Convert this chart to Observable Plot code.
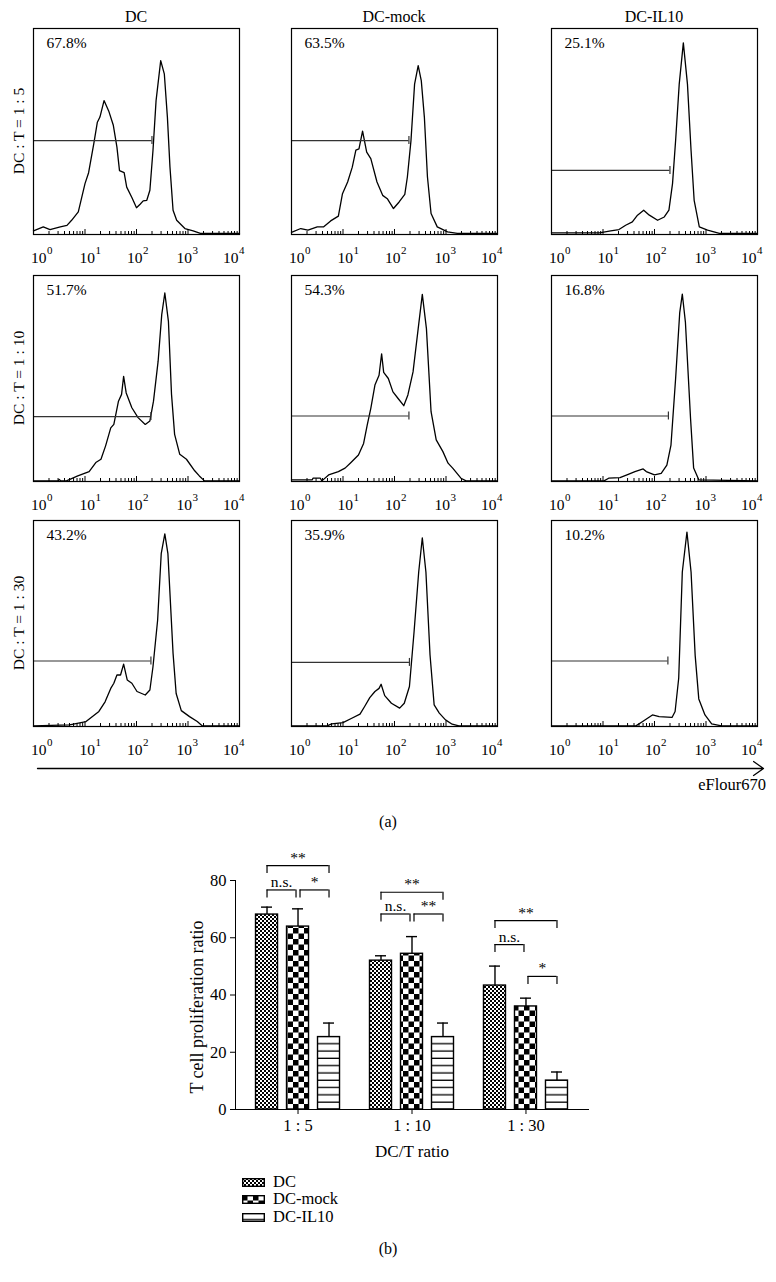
<!DOCTYPE html>
<html><head><meta charset="utf-8">
<script src="https://cdn.jsdelivr.net/npm/d3@7"></script>
<script src="https://cdn.jsdelivr.net/npm/@observablehq/plot@0.6"></script>
<style>
body{margin:0;background:#fff;}
#fig{position:relative;width:776px;height:1282px;font-family:"Liberation Serif","DejaVu Serif",serif;color:#000;overflow:hidden;background:#fff;}
#fig .t{position:absolute;white-space:nowrap;line-height:1;}
#fig .chart{position:absolute;}
</style></head><body>
<svg width="0" height="0" style="position:absolute;left:0;top:0">
<defs>
<pattern id="patFine" patternUnits="userSpaceOnUse" width="4" height="4"><rect width="4" height="4" fill="#fff"/><rect width="2" height="2" fill="#000"/><rect x="2" y="2" width="2" height="2" fill="#000"/></pattern>
<pattern id="patCheck" patternUnits="userSpaceOnUse" width="11" height="11"><rect width="11" height="11" fill="#fff"/><rect width="5.5" height="5.5" fill="#000"/><rect x="5.5" y="5.5" width="5.5" height="5.5" fill="#000"/></pattern>
<pattern id="patLines" patternUnits="userSpaceOnUse" width="8" height="7.3"><rect width="8" height="7.3" fill="#fff"/><rect y="6" width="8" height="1.3" fill="#000"/></pattern>
</defs></svg>
<div id="fig"></div>
<script>
// ---------- Panel (a): flow histograms, points = [log10 intensity, % of max height] ----------
const colTitles = ["DC", "DC-mock", "DC-IL10"];
const rowTitles = ["DC : T = 1 : 5", "DC : T = 1 : 10", "DC : T = 1 : 30"];
const pctLabels = [[67.8, 63.5, 25.1], [51.7, 54.3, 16.8], [43.2, 35.9, 10.2]];
const gateLevels = [[45.6, 45.6, 31.1], [31.5, 31.8, 31.8], [31.8, 31.1, 31.8]];
const gateEnds = [[2.30, 2.28, 2.30], [2.28, 2.28, 2.27], [2.28, 2.29, 2.26]];
const decadeLabels = ["0", "1", "2", "3", "4"];

const hDC5 = [[0,1.8],[0.19,3.7],[0.32,2.4],[0.52,3.7],[0.65,4.4],[0.74,6.9],[0.87,11],[1.0,24.7],[1.07,30],[1.17,44],[1.24,54.5],[1.29,57],[1.37,65],[1.46,60],[1.55,53],[1.62,42.4],[1.67,31],[1.76,30],[1.81,23],[1.91,18],[2.0,13],[2.07,14.7],[2.13,16.3],[2.2,16.6],[2.26,21.5],[2.32,40.8],[2.38,65],[2.47,84.4],[2.54,78],[2.6,57],[2.65,32.7],[2.71,11.8],[2.78,6.9],[2.94,2.9],[3.1,1.8],[3.24,0.5],[4,0.5]];
const hMock5 = [[0,1],[0.18,2.9],[0.32,2.1],[0.5,3.7],[0.62,3.7],[0.76,6.6],[0.91,8.9],[0.99,19.8],[1.09,25.5],[1.18,32.7],[1.25,41],[1.31,41.6],[1.38,50.2],[1.46,40],[1.54,36.8],[1.66,25.5],[1.77,19],[1.86,17.4],[1.98,12.6],[2.09,15.8],[2.2,19.5],[2.25,27.9],[2.32,45.6],[2.39,73],[2.46,82],[2.52,74.7],[2.58,57],[2.64,27.9],[2.71,10.2],[2.83,3.7],[3.03,1.3],[3.22,0.5],[4,0.5]];
const hIL5 = [[0,0.8],[0.93,0.8],[1.15,1.8],[1.31,2.4],[1.44,4.5],[1.57,6.1],[1.67,9.4],[1.79,11.8],[1.9,9.4],[2.06,6.9],[2.19,8.5],[2.28,11.8],[2.35,24.7],[2.41,45.6],[2.48,73],[2.56,93],[2.64,73],[2.71,40.8],[2.77,16.6],[2.87,3.7],[3.03,2.1],[3.26,0.5],[4,0.5]];
const hDC10 = [[0,0.3],[0.48,0.3],[0.5,1.0],[0.53,0.3],[0.64,0.3],[0.86,2.7],[1.08,4.8],[1.21,9.2],[1.31,10.8],[1.4,17.3],[1.5,26],[1.56,27.7],[1.65,39],[1.71,42.3],[1.75,51],[1.8,43],[1.91,35.8],[2.03,31],[2.17,27.7],[2.26,29.4],[2.33,39],[2.42,58.4],[2.49,81],[2.55,91.5],[2.62,77.7],[2.68,42.3],[2.74,22.9],[2.84,13.2],[2.97,10.8],[3.13,5.2],[3.22,2.7],[3.32,0.3],[4,0.3]];
const hMock10 = [[0,0.8],[0.4,0.8],[0.42,1.6],[0.56,1.6],[0.59,0.3],[0.72,3.2],[0.91,4.8],[1.04,6.5],[1.14,8.9],[1.3,12.9],[1.4,18.5],[1.47,27.4],[1.54,35.5],[1.62,46.8],[1.7,51.6],[1.75,62],[1.79,53],[1.88,50],[1.97,43.5],[2.07,40.3],[2.18,36.8],[2.26,42],[2.36,53.2],[2.46,74.2],[2.54,90.8],[2.62,74.2],[2.71,33.9],[2.81,20.2],[2.94,14.5],[3.04,8.9],[3.13,6.5],[3.29,1.6],[3.39,0.3],[4,0.3]];
const hIL10 = [[0,0.3],[1.02,0.3],[1.11,1.6],[1.33,1.9],[1.49,3.5],[1.62,4.8],[1.78,6.1],[1.84,4.8],[2.0,3.2],[2.13,4],[2.24,8],[2.32,17.7],[2.41,50],[2.49,82],[2.54,91],[2.6,77.4],[2.7,30.6],[2.76,6.5],[2.86,0.8],[4,0.3]];
const hDC30 = [[0,0.3],[0.7,0.8],[1.02,2.4],[1.27,7.3],[1.39,12],[1.5,18.5],[1.56,21],[1.62,25],[1.69,25],[1.75,30.3],[1.82,22.6],[1.91,21],[2.01,17],[2.17,15.3],[2.26,17.7],[2.32,29],[2.41,51.6],[2.48,83.9],[2.55,93.5],[2.61,83.9],[2.71,35.5],[2.77,16],[2.87,7.7],[3.03,4.8],[3.18,2.4],[3.28,0.3],[4,0.3]];
const hMock30 = [[0,0.3],[0.69,0.3],[0.78,1.3],[1.0,1.9],[1.17,4],[1.33,6],[1.42,9.7],[1.52,14],[1.62,17],[1.7,18.5],[1.74,20.5],[1.81,15],[1.94,11.3],[2.1,8.9],[2.19,11.3],[2.29,19.4],[2.38,46],[2.47,75],[2.54,91.6],[2.61,75],[2.69,34.7],[2.77,10.5],[2.87,6.5],[2.99,3.2],[3.12,1.1],[3.25,0.3],[4,0.3]];
const hIL30 = [[0,0.3],[1.64,0.3],[1.77,2.4],[1.96,5.6],[2.09,4.8],[2.34,4.4],[2.4,7.3],[2.47,23.4],[2.54,75],[2.63,94.4],[2.71,75],[2.79,34.4],[2.86,13.4],[2.98,5.6],[3.11,1.3],[3.3,0.3],[4,0.3]];
const histograms = [[hDC5, hMock5, hIL5], [hDC10, hMock10, hIL10], [hDC30, hMock30, hIL30]];

// ---------- Panel (b): bar chart ----------
const ratios = ["1 : 5", "1 : 10", "1 : 30"];
const groupNames = ["DC", "DC-mock", "DC-IL10"];
const dcMean = [68.1, 52.0, 43.3];
const dcErr = [2.6, 1.7, 6.8];
const mockMean = [63.9, 54.4, 36.0];
const mockErr = [6.2, 6.0, 2.9];
const il10Mean = [25.3, 25.3, 10.1];
const il10Err = [4.9, 4.9, 3.0];
const yTicks = [0, 20, 40, 60, 80];
const sigRatio = ["1 : 5", "1 : 5", "1 : 5", "1 : 10", "1 : 10", "1 : 10", "1 : 30", "1 : 30", "1 : 30"];
const sigFrom = ["DC", "DC", "DC-mock", "DC", "DC", "DC-mock", "DC", "DC", "DC-mock"];
const sigTo = ["DC-IL10", "DC-mock", "DC-IL10", "DC-IL10", "DC-mock", "DC-IL10", "DC-IL10", "DC-mock", "DC-IL10"];
const sigLevel = [85.2, 76.7, 76.7, 75.9, 68.3, 68.3, 66.0, 57.6, 46.5];
const sigLabel = ["**", "n.s.", "*", "**", "n.s.", "**", "**", "n.s.", "*"];

const FONT = "Liberation Serif";
const fig = document.getElementById("fig");

function addText(txt, x, y, size, anchor = "center", rotate = false) {
  const el = document.createElement("div");
  el.className = "t";
  el.textContent = txt;
  const tx = anchor === "end" ? "-100%" : anchor === "start" ? "0" : "-50%";
  el.style.left = x + "px";
  el.style.top = y + "px";
  el.style.fontSize = size + "px";
  el.style.transform = `translate(${tx},-50%)` + (rotate ? " rotate(-90deg)" : "");
  fig.append(el);
}
function place(node, left, top) {
  node.classList.add("chart");
  node.style.left = left + "px";
  node.style.top = top + "px";
  fig.append(node);
}

// histogram layout
const boxLefts = [33, 291, 551];
const boxTops = [28, 275, 520];
const BOX = 206;
const ML = 14, MR = 16, MT = 1, MB = 34;
const labelShift = [9, 6, 2, 0, -5];

const logTicks = d3.scaleLog().domain([1, 1e4]).ticks();
const majorTicks = logTicks.filter(t => Math.abs(Math.log10(t) - Math.round(Math.log10(t))) < 1e-9);
const minorTicks = logTicks.filter(t => !majorTicks.includes(t));

function histogram(pts, gate, pct) {
  const data = pts.map(([d, h]) => ({x: 10 ** d, y: h}));
  const marks = [
    Plot.ruleX(minorTicks, {x: d => d, y1: 0, y2: 0, insetTop: -3, stroke: "#000", strokeWidth: 1}),
    Plot.ruleX(majorTicks, {x: d => d, y1: 0, y2: 0, insetTop: -5, stroke: "#000", strokeWidth: 1}),
    Plot.line(data, {x: "x", y: "y", stroke: "#000", strokeWidth: 1.3, curve: "linear"}),
    Plot.ruleY([gate], {y: "h", x1: 1, x2: d => 10 ** d.end, stroke: "#333", strokeWidth: 1.2}),
    Plot.ruleX([gate], {x: d => 10 ** d.end, y1: "h", y2: "h", insetTop: -4, insetBottom: -4, stroke: "#333", strokeWidth: 1.2}),
    Plot.frame({stroke: "#000", strokeWidth: 1.2}),
    Plot.text([pct.toFixed(1) + "%"], {frameAnchor: "top-left", dx: 13, dy: 8, lineAnchor: "top", textAnchor: "start", fontSize: 15.5, fill: "#000"})
  ];
  majorTicks.forEach((t, k) => {
    marks.push(Plot.text([t], {x: d => d, frameAnchor: "bottom", text: () => "10", textAnchor: "end", lineAnchor: "bottom", dx: labelShift[k] + 4, dy: 28, fontSize: 15.5, fill: "#000"}));
    marks.push(Plot.text([t], {x: d => d, frameAnchor: "bottom", text: () => decadeLabels[k], textAnchor: "start", lineAnchor: "bottom", dx: labelShift[k] + 4.5, dy: 19, fontSize: 11, fill: "#000"}));
  });
  return Plot.plot({
    width: ML + BOX + MR, height: MT + BOX + MB,
    marginLeft: ML, marginRight: MR, marginTop: MT, marginBottom: MB,
    x: {type: "log", domain: [1, 1e4], axis: null},
    y: {domain: [0, 100], axis: null},
    style: {fontFamily: FONT, fontSize: "15.5px", background: "transparent", color: "#000"},
    marks
  });
}

for (let r = 0; r < 3; r++) {
  for (let c = 0; c < 3; c++) {
    const chart = histogram(histograms[r][c], {h: gateLevels[r][c], end: gateEnds[r][c]}, pctLabels[r][c]);
    place(chart, boxLefts[c] - ML, boxTops[r] - MT);
  }
}
colTitles.forEach((t, c) => addText(t, boxLefts[c] + BOX / 2, 17, 16));
rowTitles.forEach((t, r) => addText(t, 19, boxTops[r] + BOX / 2, 15.5, "center", true));

// arrow along the bottom of panel (a)
const arrowChart = Plot.plot({
  width: 776, height: 24, marginLeft: 37, marginRight: 13, marginTop: 0, marginBottom: 0,
  x: {domain: [0, 1], axis: null}, y: {domain: [0, 1], axis: null},
  style: {background: "transparent"},
  marks: [Plot.arrow([{from: 0, to: 1}], {x1: "from", x2: "to", y1: 0.5, y2: 0.5, stroke: "#000", strokeWidth: 1.3, headLength: 14, headAngle: 70})]
});
place(arrowChart, 0, 756);
addText("eFlour670", 766, 785, 16.5, "end");
addText("(a)", 388, 822, 16);

// ---------- bar chart ----------
const means = [dcMean, mockMean, il10Mean];
const errs = [dcErr, mockErr, il10Err];
const pats = ["url(#patFine)", "url(#patCheck)", "url(#patLines)"];
const barData = groupNames.flatMap((g, j) => ratios.map((r, i) => ({ratio: r, group: g, j, mean: means[j][i], err: errs[j][i]})));
const sigData = sigRatio.map((r, k) => ({ratio: r, from: sigFrom[k], to: sigTo[k], level: sigLevel[k], label: sigLabel[k]}));

const BW = 84, STEP = 31, BAR = 22, CAP = 11;
const bm = [];
groupNames.forEach((g, j) => {
  const rows = barData.filter(d => d.j === j);
  bm.push(Plot.barY(rows, {x: "ratio", y: "mean", insetLeft: j * STEP, insetRight: (2 - j) * STEP, fill: pats[j], stroke: "#000", strokeWidth: 1.4}));
  bm.push(Plot.ruleX(rows, {x: "ratio", y1: "mean", y2: d => d.mean + d.err, dx: (j - 1) * STEP, stroke: "#000", strokeWidth: 1.4}));
  bm.push(Plot.tickY(rows, {x: "ratio", y: d => d.mean + d.err, insetLeft: j * STEP + (BAR - CAP) / 2, insetRight: (2 - j) * STEP + (BAR - CAP) / 2, stroke: "#000", strokeWidth: 1.4}));
});
sigData.forEach(b => {
  const fi = groupNames.indexOf(b.from), ti = groupNames.indexOf(b.to);
  const lp = fi * STEP + BAR / 2 + (fi === 1 ? 2 : 0);
  const rp = ti * STEP + BAR / 2 - (ti === 1 ? 2 : 0);
  bm.push(Plot.tickY([b], {x: "ratio", y: "level", insetLeft: lp, insetRight: BW - rp, stroke: "#000", strokeWidth: 1.2}));
  bm.push(Plot.ruleX([b], {x: "ratio", y1: "level", y2: "level", insetBottom: -8, dx: lp - BW / 2, stroke: "#000", strokeWidth: 1.2}));
  bm.push(Plot.ruleX([b], {x: "ratio", y1: "level", y2: "level", insetBottom: -8, dx: rp - BW / 2, stroke: "#000", strokeWidth: 1.2}));
  bm.push(Plot.text([b], {x: "ratio", y: "level", text: "label", dx: (lp + rp) / 2 - BW / 2, dy: -3, lineAnchor: "bottom", fontSize: 15.5, fill: "#000"}));
});
bm.push(Plot.ruleY([0], {stroke: "#000", strokeWidth: 1.2}));
bm.push(Plot.text(["T cell proliferation ratio"], {frameAnchor: "left", textAnchor: "middle", rotate: -90, dx: -38, dy: 12, fontSize: 18, fill: "#000"}));
bm.push(Plot.text(["DC/T ratio"], {frameAnchor: "bottom", textAnchor: "middle", dy: 42, lineAnchor: "middle", fontSize: 17, fill: "#000"}));

const barChart = Plot.plot({
  width: 448, height: 325, marginLeft: 85, marginRight: 10, marginTop: 40, marginBottom: 56,
  x: {type: "band", domain: ratios, paddingInner: 0.263, paddingOuter: 0.18, round: false, tickSize: 5, tickPadding: 5, line: true, label: null},
  y: {domain: [0, 80], ticks: yTicks, tickSize: 5, tickPadding: 4, line: true, label: null},
  style: {fontFamily: FONT, fontSize: "16.5px", background: "transparent", color: "#000"},
  marks: bm
});
place(barChart, 150, 840);

// legend
const legendY = [1182, 1199, 1217];
groupNames.forEach((g, j) => {
  const ns = "http://www.w3.org/2000/svg";
  const s = document.createElementNS(ns, "svg");
  s.setAttribute("width", 23); s.setAttribute("height", 9);
  s.style.position = "absolute"; s.style.left = "242px"; s.style.top = (legendY[j] - 4.5) + "px";
  const rect = document.createElementNS(ns, "rect");
  rect.setAttribute("x", 0.7); rect.setAttribute("y", 0.7); rect.setAttribute("width", 21.6); rect.setAttribute("height", 7.6);
  rect.setAttribute("fill", pats[j]); rect.setAttribute("stroke", "#000"); rect.setAttribute("stroke-width", 1.4);
  s.append(rect);
  fig.append(s);
  addText(g, 273, legendY[j], 16.5, "start");
});
addText("(b)", 388, 1249, 16);
</script>
</body></html>
